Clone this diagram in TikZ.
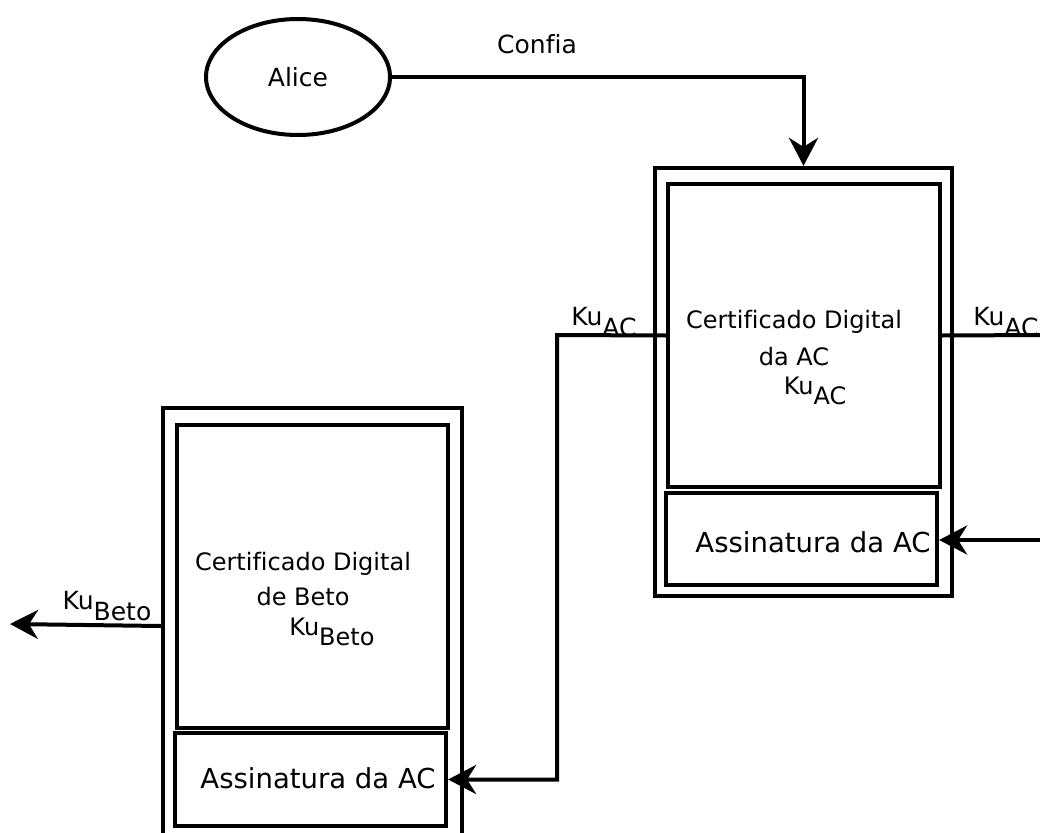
\documentclass[tikz,border=0pt]{standalone}
\usepackage{fontspec}
\setmainfont[Ligatures=NoCommon]{DejaVu Sans}
\usetikzlibrary{arrows.meta,shapes.geometric}
\newcommand{\kusub}[1]{Ku\raisebox{-0.42em}{#1}}
\tikzset{
  box/.style={draw, line width=4.2pt, inner sep=0pt},
  conn/.style={line width=4pt},
  arr/.style={conn, -{Stealth[length=28pt,width=29pt,inset=9pt]}},
  txt/.style={font=\fontsize{24}{28}\selectfont, inner sep=0pt},
  lbl/.style={font=\fontsize{25}{29}\selectfont, inner sep=0pt},
  sig/.style={font=\fontsize{27.5}{31}\selectfont, inner sep=0pt}
}
\begin{document}
\begin{tikzpicture}[x=1pt,y=-1pt]
\useasboundingbox[fill=white] (0,0) rectangle (1040,832);
% Alice
\node[ellipse, draw, line width=4pt, minimum width=184pt, minimum height=116pt, inner sep=0pt, lbl] (alice) at (298,77) {Alice};
% right certificate
\node[box, minimum width=297pt, minimum height=428pt] (rOuter) at (803.5,382) {};
\node[box, minimum width=272pt, minimum height=303pt] (rTop) at (804,335.5) {};
\node[box, minimum width=271pt, minimum height=92pt] (rBot) at (801.5,539) {};
\node[txt] (rT1) at (794,322) {Certificado Digital};
\node[txt] (rT2) at (794,357) {da AC};
\node[txt] (rT3) at (815,391) {\kusub{AC}};
\node[sig] (rSig) at (813,542) {Assinatura da AC};
% left certificate
\node[box, minimum width=299pt, minimum height=436pt] (lOuter) at (312.5,626) {};
\node[box, minimum width=271pt, minimum height=303pt] (lTop) at (312.5,576.5) {};
\node[box, minimum width=271pt, minimum height=93pt] (lBot) at (310.5,779.5) {};
\node[txt] (lT1) at (303,564) {Certificado Digital};
\node[txt] (lT2) at (303,597) {de Beto};
\node[txt] (lT3) at (332,632) {\kusub{Beto}};
\node[sig] (lSig) at (318,778) {Assinatura da AC};
% labels
\node[lbl] (confia) at (537,44) {Confia};
\node[lbl] (kuL) at (604,322) {\kusub{AC}};
\node[lbl] (kuR) at (1006,322) {\kusub{AC}};
\node[lbl] (kuB) at (107,606) {\kusub{Beto}};
% connectors
\coordinate (rEnd) at (1045,335);
\coordinate (sigIn) at (1045,540);
\coordinate (betoOut) at (10,624);
\coordinate (bend) at (557,335);
\draw[arr] (alice.east) -| (rOuter.north);
\draw[conn] (rTop.east) -- (rEnd);
\draw[arr] (sigIn) -- (rBot.east |- sigIn);
\draw[arr] (rTop.west) -- (bend) |- (lBot.east);
\draw[arr] (lOuter.west) -- (betoOut);
\end{tikzpicture}
\end{document}
